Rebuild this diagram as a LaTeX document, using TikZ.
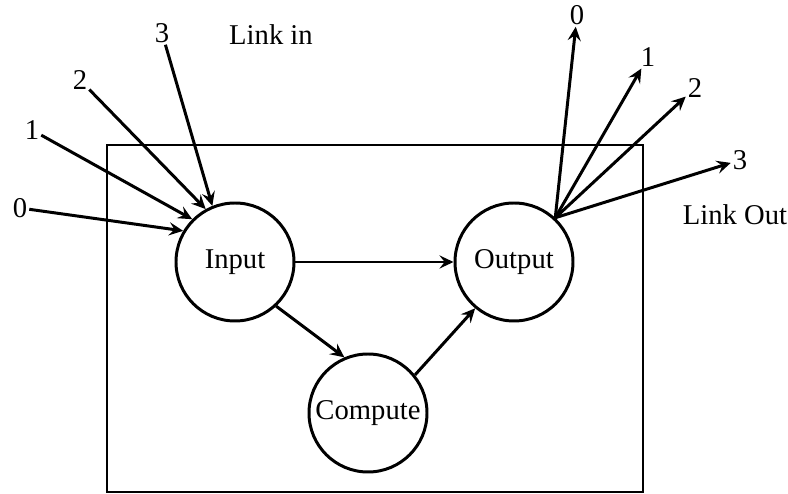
\documentclass[tikz,border=0pt]{standalone}
\usepackage{fontspec}
\setmainfont{Liberation Serif}
\usetikzlibrary{shapes,arrows.meta,positioning}
\tikzstyle{unit} = [circle, draw, line width=1.7pt, minimum size=2.36cm, inner sep=0pt, text centered]
\tikzstyle{board} = [rectangle, draw, line width=1.5pt, minimum width=10.72cm, minimum height=6.94cm]
\tikzstyle{port} = [inner sep=1pt]
\tikzstyle{line} = [draw, line width=1.7pt, -{Stealth[length=8pt,width=7.5pt,inset=3pt]}]

\begin{document}
\begin{tikzpicture}[node distance = 3cm, on grid, auto, font=\fontsize{16.3}{19}\selectfont]
        \useasboundingbox (-4.70,-4.64) rectangle (11.06,5.24);
        \node [unit] (input) {Input};
        \node [unit, right=5.58cm of input] (output) {Output};
        \node [unit, below right=3.02cm and 2.66cm of input] (compute) {Compute};
        \node [board, below right=1.13cm and 2.80cm of input] (board) {};

        % link in
        \node [port, above left=1.08cm and 4.30cm of input] (in0) {0};
        \node [port, above left=2.64cm and 4.06cm of input] (in1) {1};
        \node [port, above left=3.64cm and 3.10cm of input] (in2) {2};
        \node [port, above left=4.58cm and 1.46cm of input] (in3) {3};
        \node [above right=4.54cm and 0.72cm of input] (linkin) {Link in};

        % link out
        \node [port, above right=4.94cm and 1.26cm of output] (out0) {0};
        \node [port, above right=4.10cm and 2.68cm of output] (out1) {1};
        \node [port, above right=3.48cm and 3.62cm of output] (out2) {2};
        \node [port, above right=2.04cm and 4.52cm of output] (out3) {3};
        \node [above right=0.94cm and 4.42cm of output] (linkout) {Link Out};

        \path [line] (in0) -- (input.149);
        \path [line] (in1) -- (input.135);
        \path [line] (in2) -- (input.119);
        \path [line] (in3) -- (input.112);
        \path [line] (input) -- (output);
        \path [line] (input.-47) -- (compute.113);
        \path [line] (compute.39) -- (output.230);
        \path [line] (output.47) -- (out0);
        \path [line] (output.47) -- (out1);
        \path [line] (output.47) -- (out2);
        \path [line] (output.47) -- (out3);
      \end{tikzpicture}
\end{document}
